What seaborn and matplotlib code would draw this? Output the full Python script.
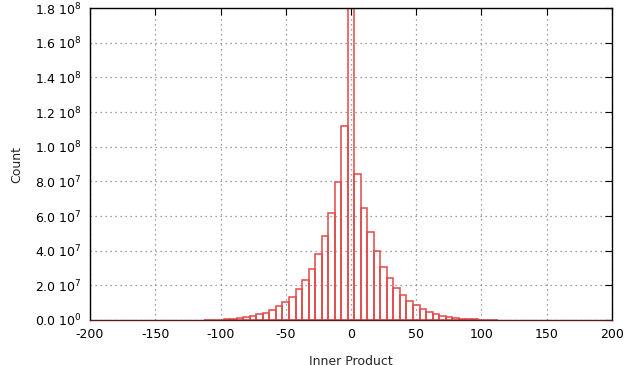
import numpy as np
import pandas as pd
import matplotlib
matplotlib.use("Agg")
import matplotlib.pyplot as plt
import seaborn as sns

# Bin centres (inner product) and counts in millions
bin_centers = [-110, -105, -100, -95, -90, -85, -80, -75, -70, -65, -60, -55,
               -50, -45, -40, -35, -30, -25, -20, -15, -10, -5, 0,
               5, 10, 15, 20, 25, 30, 35, 40, 45, 50, 55, 60, 65, 70,
               75, 80, 85, 90, 95, 100, 105, 110]
counts_millions = [0.05, 0.12, 0.25, 0.45, 0.75, 1.2, 1.7, 2.3, 3.3, 4.3, 6.0, 8.1,
                   10.5, 13.5, 17.7, 23.0, 29.7, 38.0, 48.3, 62.0, 79.6, 112.0, 230.0,
                   84.0, 64.5, 50.8, 39.8, 30.6, 24.2, 18.5, 14.2, 11.0, 8.6, 6.6, 4.8, 3.5, 2.5,
                   1.7, 1.2, 0.8, 0.5, 0.3, 0.15, 0.08, 0.04]

xticks = [-200, -150, -100, -50, 0, 50, 100, 150, 200]
yticks = [0, 2e7, 4e7, 6e7, 8e7, 1e8, 1.2e8, 1.4e8, 1.6e8, 1.8e8]
ytick_labels = [r"0.0 10$^{0}$", r"2.0 10$^{7}$", r"4.0 10$^{7}$", r"6.0 10$^{7}$",
                r"8.0 10$^{7}$", r"1.0 10$^{8}$", r"1.2 10$^{8}$", r"1.4 10$^{8}$",
                r"1.6 10$^{8}$", r"1.8 10$^{8}$"]

df = pd.DataFrame({"x": bin_centers, "w": np.array(counts_millions) * 1e6})

sns.set_style("white")
plt.rcParams["font.family"] = ["DejaVu Sans"]
plt.rcParams["mathtext.default"] = "regular"

fig = plt.figure(figsize=(6.26, 3.65), dpi=100)
ax = fig.add_axes([0.1438, 0.1233, 0.8338, 0.8547])

sns.histplot(data=df, x="x", weights="w", binwidth=5, binrange=(-112.5, 112.5),
             fill=False, element="bars", color="#e34848", linewidth=1.1, ax=ax)

ax.set_xlim(-200, 200)
ax.set_ylim(0, 1.8e8)
ax.set_xticks(xticks)
ax.set_xticklabels([str(t) for t in xticks])
ax.set_yticks(yticks)
ax.set_yticklabels(ytick_labels)
ax.grid(True, linestyle=(0, (1, 3)), color="#808080", linewidth=0.9)
ax.set_axisbelow(True)
ax.tick_params(direction="in", length=5, width=0.8, top=True, right=True,
               labelsize=9, colors="black", pad=6)
for s in ax.spines.values():
    s.set_color("black")
    s.set_linewidth(1.0)
ax.spines["bottom"].set_color("#5a1a1a")
ax.set_xlabel("Inner Product", fontsize=9, labelpad=10)
ax.set_ylabel("Count", fontsize=9, labelpad=8)

fig.savefig("out.png", dpi=100)
